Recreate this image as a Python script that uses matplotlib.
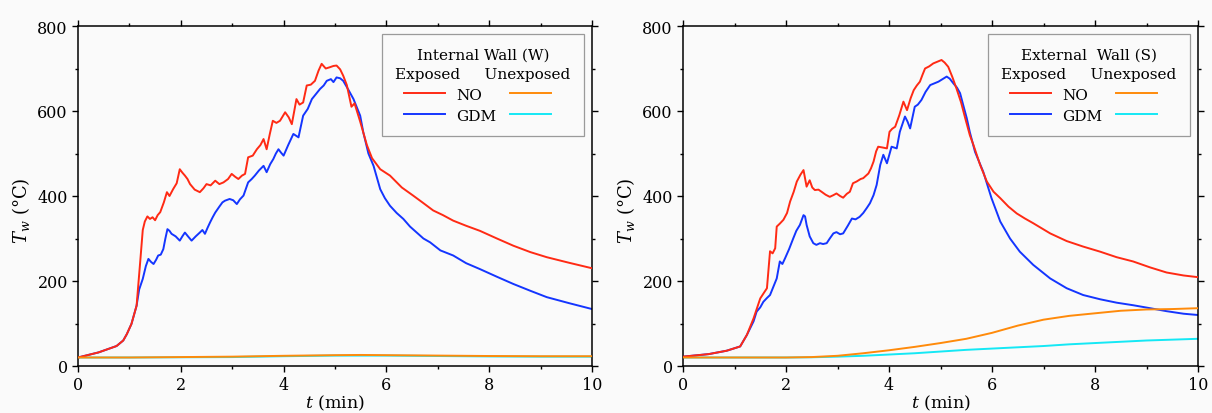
import matplotlib
matplotlib.use("Agg")
import matplotlib.pyplot as plt
from matplotlib.ticker import MultipleLocator
import numpy as np

plt.rcParams['font.family'] = ['DejaVu Serif']
plt.rcParams['mathtext.fontset'] = 'dejavuserif'

### Data
# Internal wall (W) - exposed side
t_int_no = [0.0, 0.4, 0.75, 0.88, 0.95, 1.04, 1.14, 1.21, 1.26, 1.30, 1.35, 1.40, 1.45, 1.50,
            1.55, 1.60, 1.67, 1.73, 1.78, 1.85, 1.92, 1.98, 2.03, 2.08, 2.13, 2.18, 2.27, 2.37,
            2.44, 2.50, 2.58, 2.67, 2.75, 2.83, 2.92, 2.99, 3.06, 3.12, 3.19, 3.25, 3.31, 3.40,
            3.48, 3.55, 3.61, 3.67, 3.73, 3.79, 3.86, 3.93, 4.03, 4.10, 4.16, 4.25, 4.31, 4.38,
            4.45, 4.53, 4.61, 4.68, 4.74, 4.82, 4.90, 4.97, 5.03, 5.10, 5.16, 5.23, 5.32, 5.38,
            5.49, 5.62, 5.72, 5.88, 6.07, 6.30, 6.52, 6.70, 6.91, 7.10, 7.30, 7.55, 7.82, 8.15,
            8.47, 8.80, 9.12, 9.55, 10.0]
T_int_no = [20, 32, 47, 60, 75, 99, 142, 245, 320, 340, 352, 346, 350, 343,
            355, 362, 385, 409, 400, 416, 430, 463, 455, 448, 440, 428, 415, 409,
            418, 428, 425, 436, 428, 432, 440, 452, 445, 440, 448, 452, 491, 495,
            510, 520, 534, 510, 545, 577, 572, 577, 597, 585, 569, 628, 615, 620,
            660, 662, 671, 695, 711, 700, 703, 706, 707, 698, 683, 661, 610, 618,
            575, 520, 489, 463, 448, 420, 401, 385, 366, 355, 342, 330, 318, 300,
            283, 268, 256, 243, 230]

t_int_gdm = [0.0, 0.4, 0.75, 0.88, 0.95, 1.04, 1.14, 1.19, 1.26, 1.32, 1.37, 1.42, 1.47, 1.52,
             1.56, 1.61, 1.66, 1.70, 1.74, 1.78, 1.82, 1.90, 1.98, 2.03, 2.08, 2.14, 2.21, 2.29,
             2.37, 2.42, 2.47, 2.52, 2.57, 2.62, 2.67, 2.75, 2.81, 2.86, 2.95, 3.02, 3.09, 3.15,
             3.22, 3.31, 3.38, 3.44, 3.52, 3.61, 3.67, 3.74, 3.80, 3.85, 3.90, 3.95, 4.00, 4.09,
             4.19, 4.29, 4.38, 4.47, 4.55, 4.63, 4.71, 4.78, 4.84, 4.92, 4.97, 5.03, 5.10, 5.16,
             5.26, 5.36, 5.49, 5.55, 5.65, 5.75, 5.88, 5.97, 6.07, 6.20, 6.33, 6.46, 6.59, 6.72,
             6.85, 7.05, 7.30, 7.55, 7.82, 8.15, 8.47, 8.80, 9.12, 9.55, 10.0]
T_int_gdm = [20, 32, 47, 60, 75, 99, 142, 180, 205, 235, 252, 245, 240, 250,
             260, 262, 275, 300, 322, 318, 311, 305, 295, 305, 314, 305, 295, 305,
             314, 320, 311, 325, 338, 350, 361, 375, 385, 389, 393, 390, 381, 392,
             401, 432, 440, 448, 460, 471, 456, 475, 487, 500, 510, 502, 495, 520,
             546, 538, 589, 605, 628, 640, 652, 660, 671, 675, 668, 679, 677, 671,
             650, 628, 589, 550, 500, 471, 416, 395, 377, 360, 346, 328, 314, 300,
             291, 272, 260, 242, 228, 210, 193, 177, 162, 148, 134]

# Internal wall (W) - unexposed side
t_int_unexp = [0, 1, 2, 3, 4, 5, 5.5, 6, 7, 8, 9, 10]
T_int_unexp_no = [20, 20, 21, 22, 24, 25.5, 26, 25.5, 24.5, 23.5, 23, 23]
T_int_unexp_gdm = [20, 20, 20.5, 21, 23, 24.5, 24.5, 24.5, 23.5, 22.5, 22, 22]

# External wall (S) - exposed side
t_ext_no = [0.0, 0.5, 0.85, 1.11, 1.24, 1.37, 1.50, 1.57, 1.63, 1.69, 1.74, 1.79, 1.82, 1.88,
            1.95, 2.02, 2.08, 2.15, 2.21, 2.28, 2.34, 2.40, 2.46, 2.51, 2.56, 2.63, 2.69, 2.77,
            2.85, 2.92, 2.98, 3.05, 3.11, 3.18, 3.24, 3.30, 3.37, 3.45, 3.50, 3.60, 3.65, 3.70,
            3.75, 3.79, 3.88, 3.96, 4.01, 4.06, 4.12, 4.20, 4.28, 4.35, 4.42, 4.48, 4.54, 4.60,
            4.65, 4.70, 4.78, 4.86, 4.94, 5.02, 5.08, 5.15, 5.23, 5.31, 5.40, 5.48, 5.57, 5.64,
            5.77, 5.90, 6.03, 6.16, 6.32, 6.48, 6.64, 6.80, 7.13, 7.45, 7.77, 8.10, 8.42, 8.74,
            9.07, 9.39, 9.72, 10.0]
T_ext_no = [22, 28, 36, 46, 73, 112, 159, 172, 183, 270, 265, 277, 328, 335,
            344, 360, 387, 410, 434, 450, 461, 422, 437, 420, 414, 415, 410, 403,
            398, 402, 406, 400, 396, 405, 410, 430, 434, 440, 442, 453, 465, 481,
            505, 516, 514, 512, 551, 558, 563, 590, 622, 602, 630, 649, 660, 669,
            685, 700, 705, 712, 716, 720, 714, 704, 680, 653, 620, 583, 543, 520,
            473, 434, 410, 395, 375, 359, 347, 336, 312, 294, 281, 269, 256, 246,
            232, 220, 213, 209]

t_ext_gdm = [0.0, 0.5, 0.85, 1.11, 1.24, 1.37, 1.43, 1.50, 1.56, 1.63, 1.69, 1.75, 1.82, 1.88,
             1.93, 1.98, 2.06, 2.14, 2.20, 2.27, 2.34, 2.37, 2.40, 2.46, 2.53, 2.59, 2.66, 2.72,
             2.79, 2.85, 2.92, 2.98, 3.05, 3.11, 3.20, 3.28, 3.35, 3.43, 3.50, 3.57, 3.63, 3.70,
             3.76, 3.83, 3.89, 3.96, 4.05, 4.15, 4.21, 4.31, 4.36, 4.41, 4.50, 4.56, 4.63, 4.71,
             4.80, 4.88, 4.96, 5.04, 5.12, 5.18, 5.25, 5.32, 5.38, 5.45, 5.51, 5.57, 5.67, 5.83,
             5.99, 6.16, 6.35, 6.54, 6.80, 7.13, 7.45, 7.77, 8.10, 8.42, 8.74, 9.07, 9.39, 9.72,
             10.0]
T_ext_gdm = [22, 28, 36, 46, 73, 105, 128, 138, 151, 160, 167, 185, 206, 246,
             240, 253, 275, 300, 318, 332, 355, 352, 332, 305, 289, 285, 289, 287,
             289, 300, 312, 315, 310, 312, 330, 347, 345, 351, 360, 372, 383, 402,
             426, 473, 497, 477, 516, 512, 551, 587, 575, 559, 610, 615, 626, 645,
             661, 665, 669, 675, 681, 676, 665, 655, 642, 610, 583, 550, 504, 457,
             395, 340, 300, 269, 238, 206, 183, 167, 157, 149, 143, 136, 129, 123,
             120]

# External wall (S) - unexposed side
t_ext_unexp = [0, 1, 2, 2.5, 3, 3.5, 4, 4.5, 5, 5.5, 6, 6.5, 7, 7.5, 8, 8.5, 9, 9.5, 10]
T_ext_unexp_no = [20, 20, 20, 21, 24, 30, 37, 45, 54, 64, 78, 95, 109, 118, 124, 130, 133, 134, 136]
T_ext_unexp_gdm = [20, 20, 20, 20.5, 22, 24, 27, 30, 34, 38, 41, 44, 47, 51, 54, 57, 60, 62, 64]

panels = [
    ('Internal Wall (W)', t_int_no, T_int_no, t_int_gdm, T_int_gdm,
     t_int_unexp, T_int_unexp_no, T_int_unexp_gdm),
    ('External  Wall (S)', t_ext_no, T_ext_no, t_ext_gdm, T_ext_gdm,
     t_ext_unexp, T_ext_unexp_no, T_ext_unexp_gdm),
]

c_red = '#ff2a14'
c_blue = '#1435ff'
c_orange = '#ff8a0a'
c_cyan = '#14e8f5'
bg = '#fafafa'

fig = plt.figure(figsize=(12.12, 4.14), dpi=100, facecolor=bg)
rects = [[78 / 1212, 47 / 414, 514 / 1212, 340 / 414],
         [683 / 1212, 47 / 414, 515 / 1212, 340 / 414]]

for rect, (title, tn, Tn, tg, Tg, tu, Tun, Tug) in zip(rects, panels):
    ax = fig.add_axes(rect, facecolor=bg)
    lw = 1.4
    l1, = ax.plot(tn, Tn, color=c_red, lw=lw, zorder=3, label='NO')
    l2, = ax.plot(tg, Tg, color=c_blue, lw=lw, zorder=2.5, label='GDM')
    l4, = ax.plot(tu, Tug, color=c_cyan, lw=lw, zorder=2.2, label=' ')
    l3, = ax.plot(tu, Tun, color=c_orange, lw=lw, zorder=3.5, label=' ')

    ax.set_xlim(0, 10)
    ax.set_ylim(0, 800)
    ax.xaxis.set_major_locator(MultipleLocator(2))
    ax.xaxis.set_minor_locator(MultipleLocator(1))
    ax.yaxis.set_major_locator(MultipleLocator(200))
    ax.yaxis.set_minor_locator(MultipleLocator(100))
    ax.tick_params(which='both', direction='out', top=True, right=True,
                   labelsize=11.5, width=1, pad=3)
    ax.tick_params(which='major', length=4.3)
    ax.tick_params(which='minor', length=2.4)
    for s in ax.spines.values():
        s.set_linewidth(1.1)

    ax.set_xlabel(r'$t$ (min)', fontsize=12.5, labelpad=0)
    ax.set_ylabel(r'$T_{w}$ (°C)', fontsize=13)
    ax.yaxis.set_label_coords(-0.09, 0.46)

    leg = ax.legend(handles=[l1, l2, l3, l4], labels=['NO', 'GDM', '', ''],
                    ncol=2, loc='upper right', fontsize=11,
                    title=title + '\nExposed     Unexposed', title_fontsize=11,
                    frameon=True, fancybox=False, edgecolor='#9a9a9a',
                    facecolor=bg, framealpha=1, handlelength=2.7,
                    handletextpad=0.7, columnspacing=0.9, labelspacing=0.45,
                    borderpad=0.85, borderaxespad=0.55)
    leg.get_frame().set_linewidth(0.9)
    leg.get_title().set_multialignment('center')
    leg.get_title().set_linespacing(1.5)

plt.savefig('out.png', dpi=100, facecolor=bg)
